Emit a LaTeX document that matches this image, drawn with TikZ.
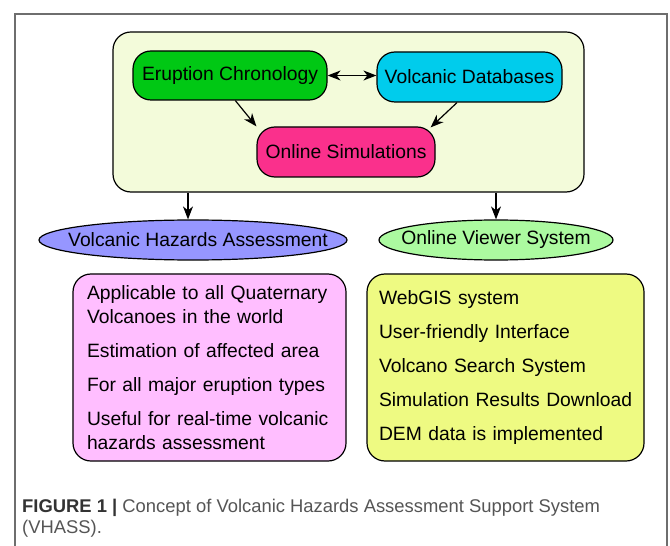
\documentclass[tikz,border=0pt]{standalone}
\usepackage{fontspec}
\setmainfont{Liberation Sans}
\usetikzlibrary{arrows.meta,shapes.geometric,calc}
\definecolor{contfill}{RGB}{243,251,218}
\definecolor{ecfill}{RGB}{0,200,20}
\definecolor{vdfill}{RGB}{0,204,236}
\definecolor{osfill}{RGB}{250,48,140}
\definecolor{vhafill}{RGB}{150,150,255}
\definecolor{ovsfill}{RGB}{172,250,160}
\definecolor{pinkfill}{RGB}{255,190,255}
\definecolor{yelfill}{RGB}{238,250,130}
\definecolor{framegray}{RGB}{110,110,110}
\definecolor{capgray}{RGB}{85,85,85}
\tikzset{
  boxline/.style={draw=black,line width=1.2bp},
  pill/.style={boxline,rounded corners=18bp,inner sep=0pt,font=\fontsize{19.3bp}{24bp}\selectfont},
  oval/.style={boxline,ellipse,inner sep=0pt,font=\fontsize{19.3bp}{24bp}\selectfont},
  listbox/.style={boxline,rounded corners=18bp,align=left,inner ysep=0pt,
    font=\fontsize{19.3bp}{24bp}\selectfont},
  tipstyle/.style={Stealth[length=13bp,width=10bp,inset=4bp]},
  arr/.style={line width=1.2bp,-{Stealth[length=13bp,width=10bp,inset=4bp]}},
  darr/.style={line width=1.2bp,{Stealth[length=13bp,width=10bp,inset=4bp]}-{Stealth[length=13bp,width=10bp,inset=4bp]}}
}
\begin{document}
\begin{tikzpicture}[x=1bp,y=-1bp]
\useasboundingbox[fill=white] (0,0) rectangle (670,546);
% outer frame
\draw[framegray,line width=1.1bp] (15,546) -- (15,14) -- (667,14) -- (667,546);
% container
\node[boxline,fill=contfill,rounded corners=18bp,minimum width=471bp,minimum height=160bp,inner sep=0pt] (cont) at (348.5,112) {};
% inner nodes
\node[pill,fill=ecfill,minimum width=194bp,minimum height=49bp] (ec) at (230,75.5) {Eruption Chronology};
\node[pill,fill=vdfill,minimum width=185bp,minimum height=50bp] (vd) at (469.5,77) {Volcanic Databases};
\node[pill,fill=osfill,minimum width=178bp,minimum height=50bp] (os) at (346,152) {Online Simulations};
% ellipses
\node[oval,fill=vhafill,minimum width=308bp,minimum height=40bp] (vha) at (193,240) {\makebox[0pt]{\hspace*{10bp}Volcanic Hazards Assessment}};
\node[oval,fill=ovsfill,minimum width=234bp,minimum height=40bp] (ovs) at (496,240) {\makebox[0pt]{Online Viewer System}};
% list boxes
\node[listbox,fill=pinkfill,text width=245bp,inner xsep=14bp,minimum height=187bp] (vhalist) at (209.5,367.5) {%
Applicable to all Quaternary\\Volcanoes in the world\\[10bp]Estimation of affected area\\[10bp]For all major eruption types\\[10bp]Useful for real-time volcanic\\hazards assessment};
\node[listbox,fill=yelfill,text width=253bp,inner xsep=12bp,minimum height=187bp] (ovslist) at (505.5,367.5) {%
\mbox{WebGIS system}\\[10bp]\mbox{User-friendly Interface}\\[10bp]\mbox{Volcano Search System}\\[10bp]\mbox{Simulation Results Download}\\[10bp]\mbox{DEM data is implemented}};
% connectors
\draw[darr] (ec.east) -- (ec.east -| vd.west);
\draw[arr] (ec.-78) -- (os.north west);
\draw[arr] (vd.-116) -- ($(os.north east)+(-5,1)$);
\draw[arr] ($(cont.south -| vha.north)+(-5,0)$) -- ($(vha.north)+(-5,0)$);
\draw[arr] (cont.south -| ovs.north) -- (ovs.north);
% caption
\node[anchor=west,text=capgray,align=left,inner sep=0pt,font=\fontsize{18.4bp}{21.5bp}\selectfont] (cap) at (22,518) {%
{\color{black!80}\bfseries FIGURE 1 |} Concept of Volcanic Hazards Assessment Support System\\(VHASS).};
\end{tikzpicture}
\end{document}
